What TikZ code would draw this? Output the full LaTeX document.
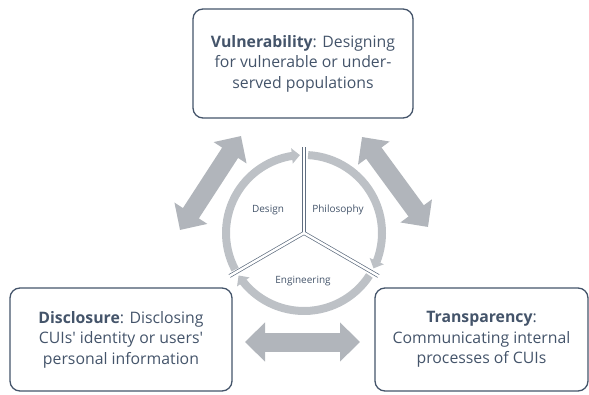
\documentclass[tikz,border=0pt]{standalone}
\usepackage{fontspec}
\setmainfont{Open Sans}[Ligatures=TeXOff]
\usetikzlibrary{arrows.meta, bending, calc}
\definecolor{slate}{RGB}{68,84,106}
\definecolor{ringgray}{RGB}{189,193,198}
\definecolor{blockgray}{RGB}{177,181,187}
\tikzset{
	themebox/.style={draw=slate, line width=1.3pt, rounded corners=10pt, text=slate, align=center, inner sep=0pt, font=\fontsize{15.8}{20.5}\selectfont},
	cyclelabel/.style={text=slate, font=\fontsize{10}{12}\selectfont},
	ringarc/.style={draw=ringgray, line width=8pt, -{Triangle[length=8pt, width=15pt]}},
	dividerout/.style={draw=slate!85, line width=3.8pt},
	dividerin/.style={draw=white, line width=2.4pt},
	blockarrow/.style={draw=blockgray, line width=19pt, {Triangle[length=20pt, width=38pt]}-{Triangle[length=20pt, width=38pt]}},
}

\begin{document}
\begin{tikzpicture}[x=1pt, y=1pt]
		\useasboundingbox (0,0) rectangle (589,394);
		\def\rmid{78}
		\def\rdiv{86}
		\coordinate (hub) at (304,161);
		
		% draw theme boxes
		\node[themebox, minimum width=220pt, minimum height=109pt] (vul) at (303,330.5) {\textbf{Vulnerability}: Designing\\for vulnerable or under-\\served populations};
		\node[themebox, minimum width=222pt, minimum height=103pt] (dis) at (121,54.5) {\textbf{Disclosure}: Disclosing\\CUIs' identity or users'\\personal information};
		\node[themebox, minimum width=213pt, minimum height=103pt] (tra) at (481.5,54.5) {\textbf{Transparency}:\\Communicating internal\\processes of CUIs};
		
		% draw ring arcs
		\draw[ringarc] ($(hub)+(208:\rmid)$) arc[start angle=208, end angle=93, radius=\rmid];
		\draw[ringarc] ($(hub)+(87:\rmid)$) arc[start angle=87, end angle=-27, radius=\rmid];
		\draw[ringarc] ($(hub)+(-33:\rmid)$) arc[start angle=-33, end angle=-147, radius=\rmid];
		
		% draw dividers
		\foreach \ang in {90,210,330} {
			\draw[dividerout] (hub) -- ++(\ang:\rdiv);
		}
		\foreach \ang in {90,210,330} {
			\draw[dividerin] (hub) -- ++(\ang:\rdiv+1);
		}
		
		% draw cycle labels
		\node[cyclelabel] (design) at (268,184) {Design};
		\node[cyclelabel] (philo) at (338,184) {Philosophy};
		\node[cyclelabel] (engi) at (303,113) {Engineering};
		
		% draw block arrows
		\coordinate (la1) at (180,164);
		\coordinate (la2) at (241,258);
		\coordinate (ra1) at (362,257);
		\coordinate (ra2) at (428,167);
		\coordinate (ba1) at (245,52);
		\coordinate (ba2) at (360,52);
		\draw[blockarrow] (la1) -- (la2);
		\draw[blockarrow] (ra1) -- (ra2);
		\draw[blockarrow] (ba1) -- (ba2);
\end{tikzpicture}
\end{document}
